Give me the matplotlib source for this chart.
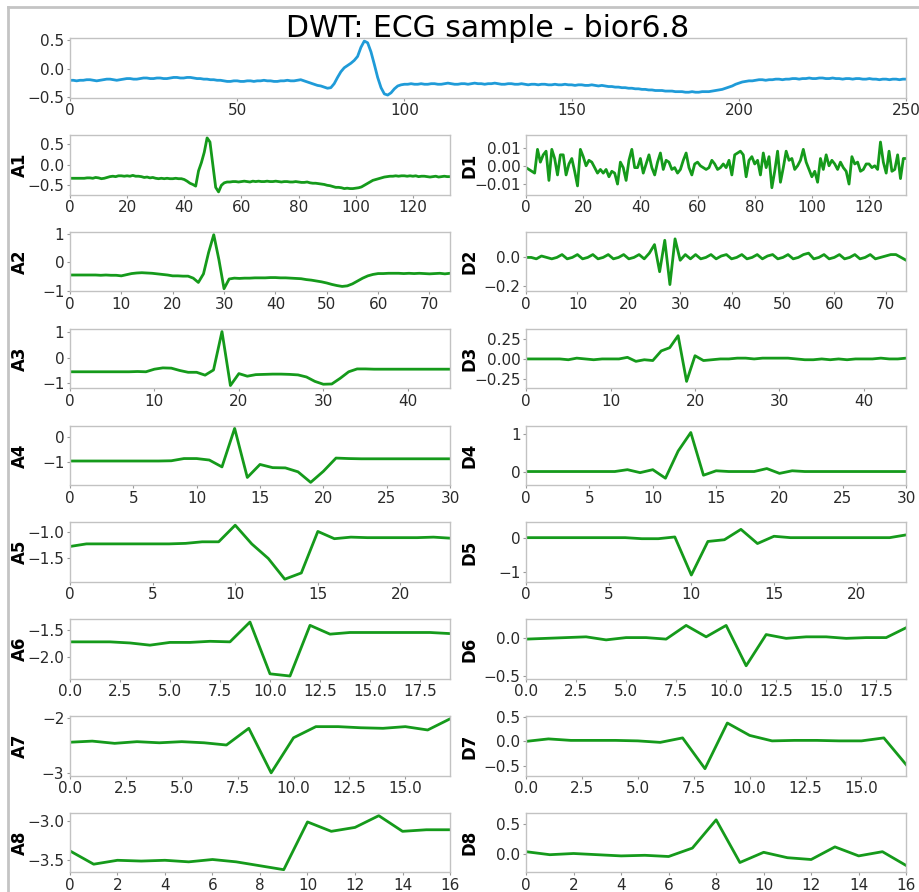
import numpy as np
import matplotlib
matplotlib.use('Agg')
import matplotlib.pyplot as plt
from matplotlib.lines import Line2D

title = 'DWT: ECG sample - bior6.8'

# ECG sample
ecg = [
    -0.20, -0.20, -0.21, -0.20, -0.20, -0.19, -0.19, -0.20, -0.21, -0.20,
    -0.19, -0.18, -0.18, -0.19, -0.20, -0.19, -0.18, -0.17, -0.17, -0.18,
    -0.18, -0.17, -0.16, -0.16, -0.17, -0.17, -0.16, -0.16, -0.17, -0.17,
    -0.16, -0.15, -0.15, -0.16, -0.16, -0.15, -0.15, -0.16, -0.17, -0.17,
    -0.18, -0.18, -0.19, -0.19, -0.20, -0.20, -0.21, -0.22, -0.22, -0.21,
    -0.21, -0.22, -0.22, -0.21, -0.21, -0.22, -0.21, -0.21, -0.20, -0.21,
    -0.21, -0.22, -0.22, -0.21, -0.21, -0.20, -0.21, -0.21, -0.20, -0.19,
    -0.21, -0.23, -0.25, -0.27, -0.29, -0.30, -0.32, -0.34, -0.33, -0.26,
    -0.15, -0.05, 0.02, 0.06, 0.10, 0.15, 0.22, 0.38, 0.49, 0.46,
    0.30, 0.08, -0.15, -0.33, -0.44, -0.46, -0.42, -0.35, -0.30, -0.28,
    -0.27, -0.27, -0.26, -0.27, -0.27, -0.26, -0.27, -0.27, -0.26, -0.26,
    -0.27, -0.27, -0.26, -0.25, -0.26, -0.27, -0.27, -0.26, -0.26, -0.27,
    -0.26, -0.25, -0.26, -0.26, -0.27, -0.26, -0.26, -0.25, -0.26, -0.27,
    -0.27, -0.26, -0.26, -0.27, -0.27, -0.26, -0.27, -0.28, -0.27, -0.27,
    -0.28, -0.27, -0.27, -0.28, -0.28, -0.27, -0.28, -0.28, -0.27, -0.28,
    -0.28, -0.29, -0.28, -0.28, -0.29, -0.29, -0.28, -0.29, -0.30, -0.29,
    -0.30, -0.31, -0.31, -0.32, -0.32, -0.33, -0.33, -0.34, -0.34, -0.35,
    -0.35, -0.36, -0.36, -0.37, -0.37, -0.38, -0.38, -0.38, -0.39, -0.39,
    -0.39, -0.40, -0.40, -0.40, -0.41, -0.41, -0.40, -0.41, -0.41, -0.40,
    -0.40, -0.40, -0.39, -0.38, -0.37, -0.36, -0.34, -0.32, -0.30, -0.27,
    -0.25, -0.23, -0.22, -0.21, -0.21, -0.20, -0.19, -0.19, -0.20, -0.19,
    -0.19, -0.18, -0.18, -0.19, -0.18, -0.18, -0.17, -0.17, -0.18, -0.17,
    -0.17, -0.16, -0.17, -0.17, -0.16, -0.16, -0.17, -0.17, -0.16, -0.17,
    -0.17, -0.18, -0.17, -0.17, -0.18, -0.17, -0.17, -0.18, -0.18, -0.17,
    -0.18, -0.18, -0.19, -0.18, -0.18, -0.19, -0.18, -0.18, -0.19, -0.18,
    -0.18,
]

# approximation coefficients
a1 = [
    -0.33, -0.33, -0.33, -0.33, -0.33, -0.33, -0.32, -0.32, -0.33, -0.31,
    -0.32, -0.34, -0.33, -0.31, -0.29, -0.28, -0.29, -0.27, -0.27, -0.28,
    -0.27, -0.28, -0.26, -0.28, -0.28, -0.29, -0.31, -0.30, -0.32, -0.31,
    -0.33, -0.34, -0.33, -0.34, -0.33, -0.34, -0.34, -0.33, -0.34, -0.34,
    -0.36, -0.40, -0.45, -0.48, -0.52, -0.15, 0.05, 0.30, 0.65, 0.55,
    0.00, -0.55, -0.66, -0.50, -0.44, -0.42, -0.42, -0.41, -0.41, -0.42,
    -0.41, -0.40, -0.41, -0.42, -0.40, -0.41, -0.40, -0.41, -0.41, -0.40,
    -0.41, -0.41, -0.40, -0.41, -0.42, -0.41, -0.41, -0.42, -0.42, -0.41,
    -0.42, -0.43, -0.43, -0.42, -0.44, -0.45, -0.45, -0.46, -0.47, -0.48,
    -0.50, -0.51, -0.53, -0.55, -0.55, -0.56, -0.58, -0.57, -0.58, -0.58,
    -0.57, -0.56, -0.54, -0.50, -0.46, -0.42, -0.38, -0.36, -0.34, -0.32,
    -0.30, -0.29, -0.28, -0.28, -0.27, -0.28, -0.27, -0.27, -0.28, -0.27,
    -0.28, -0.27, -0.29, -0.28, -0.28, -0.29, -0.30, -0.29, -0.28, -0.30,
    -0.29, -0.28, -0.29, -0.29,
]
a2 = [
    -0.44, -0.44, -0.44, -0.44, -0.44, -0.44, -0.45, -0.44, -0.45, -0.45,
    -0.47, -0.43, -0.39, -0.37, -0.36, -0.37, -0.38, -0.40, -0.42, -0.44,
    -0.47, -0.47, -0.48, -0.48, -0.55, -0.70, -0.40, 0.35, 0.97, 0.10,
    -0.92, -0.58, -0.55, -0.56, -0.55, -0.55, -0.54, -0.54, -0.54, -0.53,
    -0.53, -0.54, -0.54, -0.55, -0.56, -0.57, -0.60, -0.62, -0.65, -0.68,
    -0.72, -0.77, -0.81, -0.84, -0.82, -0.75, -0.65, -0.55, -0.47, -0.42,
    -0.39, -0.39, -0.38, -0.38, -0.38, -0.39, -0.38, -0.39, -0.38, -0.39,
    -0.40, -0.39, -0.38, -0.40, -0.38,
]
a3 = [
    -0.55, -0.55, -0.55, -0.55, -0.55, -0.55, -0.55, -0.55, -0.54, -0.55,
    -0.45, -0.40, -0.41, -0.50, -0.57, -0.57, -0.68, -0.48, 1.00, -1.08,
    -0.62, -0.72, -0.66, -0.65, -0.64, -0.64, -0.65, -0.67, -0.75, -0.92,
    -1.03, -1.02, -0.80, -0.55, -0.44, -0.44, -0.45, -0.45, -0.45, -0.45,
    -0.45, -0.45, -0.45, -0.45, -0.45, -0.45,
]
a4 = [
    -0.98, -0.98, -0.98, -0.98, -0.98, -0.98, -0.98, -0.98, -0.97, -0.88,
    -0.88, -0.94, -1.22, 0.35, -1.65, -1.12, -1.25, -1.26, -1.42, -1.85,
    -1.40, -0.86, -0.88, -0.89, -0.89, -0.89, -0.89, -0.89, -0.89, -0.89,
    -0.89,
]
a5 = [
    -1.27, -1.22, -1.22, -1.22, -1.22, -1.22, -1.22, -1.21, -1.18, -1.18,
    -0.86, -1.22, -1.50, -1.90, -1.78, -0.98, -1.12, -1.09, -1.10, -1.10,
    -1.10, -1.10, -1.09, -1.11,
]
a6 = [
    -1.72, -1.72, -1.72, -1.74, -1.78, -1.73, -1.73, -1.71, -1.72, -1.36,
    -2.30, -2.34, -1.42, -1.58, -1.55, -1.55, -1.55, -1.55, -1.55, -1.57,
]
a7 = [
    -2.44, -2.42, -2.46, -2.43, -2.45, -2.43, -2.45, -2.49, -2.19, -2.99,
    -2.36, -2.16, -2.16, -2.18, -2.19, -2.16, -2.22, -2.02,
]
a8 = [
    -3.38, -3.55, -3.50, -3.51, -3.50, -3.52, -3.49, -3.52, -3.57, -3.62,
    -3.01, -3.13, -3.08, -2.93, -3.13, -3.11, -3.11,
]

# detail coefficients
d1 = [
    -0.001, -0.002, -0.003, -0.004, 0.009, 0.002, 0.006, 0.008, -0.008, 0.009,
    0.004, -0.005, 0.006, 0.006, -0.005, 0.001, 0.004, -0.003, -0.011, 0.009,
    0.005, 0.000, 0.003, 0.002, -0.001, -0.004, -0.002, -0.004, -0.002, -0.006,
    -0.003, -0.004, -0.010, 0.002, -0.001, -0.008, 0.003, 0.009, -0.001, -0.001,
    0.004, -0.004, 0.001, 0.006, -0.001, -0.005, 0.002, 0.007, -0.002, 0.003,
    0.002, -0.002, -0.001, -0.004, -0.002, 0.003, 0.007, -0.001, -0.005, 0.001,
    0.002, 0.000, -0.001, -0.002, -0.001, 0.003, 0.001, -0.002, -0.001, 0.001,
    -0.001, 0.003, -0.005, 0.006, 0.007, 0.008, 0.006, -0.006, 0.003, 0.005,
    0.001, 0.003, -0.005, 0.007, -0.001, 0.005, -0.012, -0.003, 0.008, -0.009,
    -0.001, 0.008, 0.003, 0.004, -0.002, 0.000, 0.003, 0.009, 0.002, -0.002,
    -0.006, -0.003, -0.009, 0.004, -0.002, 0.006, 0.000, 0.003, 0.001, -0.002,
    0.002, -0.001, -0.003, -0.010, 0.005, 0.001, 0.002, -0.003, -0.002, 0.001,
    0.001, -0.001, 0.000, -0.002, 0.013, 0.002, -0.004, 0.008, -0.003, -0.002,
    0.006, -0.007, 0.004, 0.004,
]
d2 = [
    0.00, 0.00, -0.01, 0.01, 0.00, -0.01, 0.00, 0.02, -0.01, 0.00,
    0.02, -0.01, 0.00, 0.02, -0.01, 0.00, 0.02, -0.01, 0.00, 0.02,
    -0.01, 0.00, 0.02, -0.01, 0.03, 0.09, -0.10, 0.12, -0.19, 0.13,
    -0.02, 0.02, -0.01, 0.02, -0.01, 0.00, 0.02, -0.01, 0.01, 0.02,
    -0.01, 0.00, 0.02, -0.01, 0.00, 0.02, -0.01, 0.01, 0.02, -0.01,
    0.00, 0.02, -0.01, 0.00, 0.02, 0.03, -0.01, 0.00, 0.02, -0.01,
    0.00, 0.02, -0.01, 0.00, 0.02, -0.01, 0.00, 0.02, -0.01, 0.00,
    0.01, 0.02, 0.02, 0.00, -0.02,
]
d3 = [
    0.00, 0.00, 0.00, 0.00, 0.00, -0.01, 0.01, 0.00, -0.01, 0.00,
    0.00, 0.00, 0.02, -0.03, -0.01, -0.02, 0.10, 0.14, 0.29, -0.28,
    0.04, -0.02, -0.01, 0.00, 0.00, 0.01, 0.01, 0.00, 0.01, 0.01,
    0.01, 0.01, 0.00, -0.01, -0.01, 0.00, -0.01, 0.00, -0.01, 0.00,
    0.00, 0.00, 0.01, 0.00, 0.00, 0.01,
]
d4 = [
    0.00, 0.00, 0.00, 0.00, 0.00, 0.00, 0.00, 0.00, 0.05, -0.03,
    0.05, -0.18, 0.55, 1.05, -0.10, 0.02, 0.00, 0.00, 0.00, 0.08,
    -0.05, 0.02, 0.00, 0.00, 0.00, 0.00, 0.00, 0.00, 0.00, 0.00,
    0.00,
]
d5 = [
    0.00, 0.00, 0.00, 0.00, 0.00, 0.00, 0.00, -0.03, -0.03, 0.02,
    -1.08, -0.11, -0.06, 0.24, -0.17, 0.04, 0.00, 0.00, 0.00, 0.00,
    0.00, 0.00, 0.00, 0.08,
]
d6 = [
    -0.01, 0.00, 0.01, 0.02, -0.02, 0.01, 0.01, -0.01, 0.17, 0.02,
    0.17, -0.36, 0.05, 0.00, 0.02, 0.02, 0.00, 0.01, 0.01, 0.14,
]
d7 = [
    0.00, 0.05, 0.02, 0.02, 0.02, 0.01, -0.02, 0.07, -0.55, 0.37,
    0.12, 0.01, 0.02, 0.02, 0.01, 0.01, 0.07, -0.47,
]
d8 = [
    0.04, -0.01, 0.01, -0.01, -0.03, -0.02, -0.04, 0.10, 0.57, -0.14,
    0.03, -0.06, -0.09, 0.12, -0.03, 0.04, -0.19,
]

approx = [a1, a2, a3, a4, a5, a6, a7, a8]
details = [d1, d2, d3, d4, d5, d6, d7, d8]

blue = '#1f9bd8'
green = '#159a1b'
spine_col = '#c2c2c2'


def style_axes(ax):
    for s in ax.spines.values():
        s.set_color(spine_col)
        s.set_linewidth(1.0)
    ax.tick_params(length=2, width=0.8, color='#9a9a9a', labelsize=11,
                   labelcolor='#2a2a2a', pad=2)


fig = plt.figure(figsize=(9.2, 8.92), dpi=100)
gs = fig.add_gridspec(9, 2, left=0.076, right=0.985, top=0.957, bottom=0.022,
                      hspace=0.63, wspace=0.2)

ax_main = fig.add_subplot(gs[0, :])
ax_main.plot(np.arange(len(ecg)), ecg, color=blue, lw=2)
ax_main.set_xlim(0, len(ecg) - 1)
# fixed y so the title sits right on the top frame like the original
ax_main.set_title(title, fontsize=21.5, y=1.0, pad=1)
style_axes(ax_main)

for i, (a, d) in enumerate(zip(approx, details)):
    ax = fig.add_subplot(gs[i + 1, 0])
    ax.plot(np.arange(len(a)), a, color=green, lw=2)
    ax.set_xlim(0, len(a) - 1)
    ax.set_ylabel('A%d' % (i + 1), fontsize=12, fontweight='bold')
    ax.yaxis.set_label_coords(-0.108, 0.5)
    style_axes(ax)

    ax = fig.add_subplot(gs[i + 1, 1])
    ax.plot(np.arange(len(d)), d, color=green, lw=2)
    ax.set_xlim(0, len(d) - 1)
    ax.margins(y=0.15)
    if i == 5:
        ax.set_ylim(-0.53, 0.25)
        ax.set_yticks([-0.5, 0.0])
    ax.set_ylabel('D%d' % (i + 1), fontsize=12, fontweight='bold')
    ax.yaxis.set_label_coords(-0.125, 0.5)
    style_axes(ax)

# screenshot frame on the left and top
fig.add_artist(Line2D([0.009, 0.009], [0, 0.992], transform=fig.transFigure,
                      color='#c4c4c4', lw=2))
fig.add_artist(Line2D([0.009, 1.0], [0.992, 0.992], transform=fig.transFigure,
                      color='#c4c4c4', lw=2))

plt.savefig('out.png', dpi=100)
